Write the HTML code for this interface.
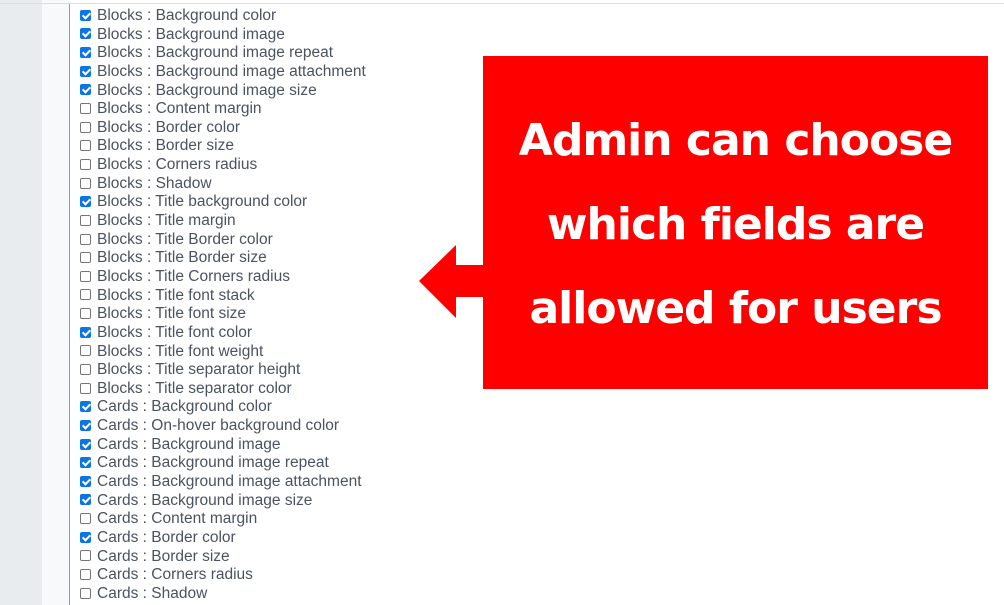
<!DOCTYPE html>
<html><head><style>
body{margin:0;width:1004px;height:605px;overflow:hidden;background:#fff;font-family:"Liberation Sans",sans-serif;position:relative}
.g{position:absolute;left:0;top:0;width:42px;height:605px;background:#e9ecef}
.l{position:absolute;left:42px;top:0;width:27px;height:605px;background:#f8f9fa}
.v{position:absolute;left:69px;top:4px;width:1px;height:601px;background:#999}
.t{position:absolute;left:0;top:3px;width:1004px;height:1px;background:#ddd}
.rows{position:absolute;left:80px;top:7px}
.r{height:18.65px;line-height:18.65px;font-size:15.5px;color:#4a5360;white-space:nowrap;display:flex;align-items:center}
.cb{width:11px;height:11px;border:1px solid #767676;border-radius:2px;box-sizing:border-box;margin-right:6px;background:#fff;position:relative;top:-1px}
.cb.c{background:#0b75e3;border-color:#0b75e3}
.cb.c::after{content:"";position:absolute;left:3px;top:0px;width:3px;height:6px;border:solid #fff;border-width:0 2px 2px 0;transform:rotate(45deg)}
.box{position:absolute;left:483px;top:56px;width:505px;height:333px;background:#fe0000;color:#fff;font-weight:bold;font-size:44px;text-align:center;line-height:84px;padding-top:43px;box-sizing:border-box;font-family:"DejaVu Sans","Liberation Sans",sans-serif;letter-spacing:-1px}
svg{position:absolute;left:0;top:0}
</style></head><body>
<div class="g"></div><div class="l"></div><div class="t"></div><div class="v"></div>
<div class="rows">
<div class="r"><span class="cb c"></span>Blocks : Background color</div>
<div class="r"><span class="cb c"></span>Blocks : Background image</div>
<div class="r"><span class="cb c"></span>Blocks : Background image repeat</div>
<div class="r"><span class="cb c"></span>Blocks : Background image attachment</div>
<div class="r"><span class="cb c"></span>Blocks : Background image size</div>
<div class="r"><span class="cb"></span>Blocks : Content margin</div>
<div class="r"><span class="cb"></span>Blocks : Border color</div>
<div class="r"><span class="cb"></span>Blocks : Border size</div>
<div class="r"><span class="cb"></span>Blocks : Corners radius</div>
<div class="r"><span class="cb"></span>Blocks : Shadow</div>
<div class="r"><span class="cb c"></span>Blocks : Title background color</div>
<div class="r"><span class="cb"></span>Blocks : Title margin</div>
<div class="r"><span class="cb"></span>Blocks : Title Border color</div>
<div class="r"><span class="cb"></span>Blocks : Title Border size</div>
<div class="r"><span class="cb"></span>Blocks : Title Corners radius</div>
<div class="r"><span class="cb"></span>Blocks : Title font stack</div>
<div class="r"><span class="cb"></span>Blocks : Title font size</div>
<div class="r"><span class="cb c"></span>Blocks : Title font color</div>
<div class="r"><span class="cb"></span>Blocks : Title font weight</div>
<div class="r"><span class="cb"></span>Blocks : Title separator height</div>
<div class="r"><span class="cb"></span>Blocks : Title separator color</div>
<div class="r"><span class="cb c"></span>Cards : Background color</div>
<div class="r"><span class="cb c"></span>Cards : On-hover background color</div>
<div class="r"><span class="cb c"></span>Cards : Background image</div>
<div class="r"><span class="cb c"></span>Cards : Background image repeat</div>
<div class="r"><span class="cb c"></span>Cards : Background image attachment</div>
<div class="r"><span class="cb c"></span>Cards : Background image size</div>
<div class="r"><span class="cb"></span>Cards : Content margin</div>
<div class="r"><span class="cb c"></span>Cards : Border color</div>
<div class="r"><span class="cb"></span>Cards : Border size</div>
<div class="r"><span class="cb"></span>Cards : Corners radius</div>
<div class="r"><span class="cb"></span>Cards : Shadow</div>
</div>
<svg width="1004" height="605"><polygon points="419,281 456,245 456,265 484,265 484,297 456,297 456,318" fill="#fe0000"/></svg>
<div class="box">Admin can choose<br>which fields are<br>allowed for users</div>
</body></html>
